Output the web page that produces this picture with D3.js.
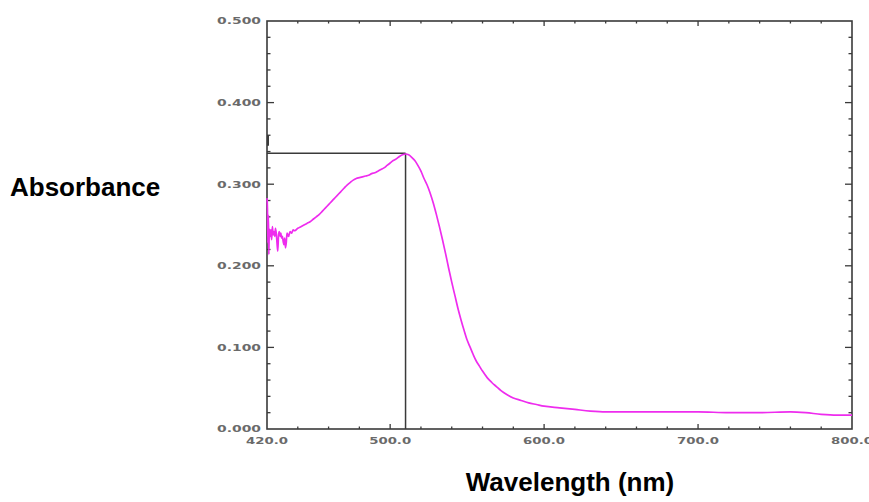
<!DOCTYPE html>
<html>
<head>
<meta charset="utf-8">
<script src="https://cdn.jsdelivr.net/npm/d3@7"></script>
<style>
  body { margin: 0; background: #fff; }
  svg { display: block; }
</style>
</head>
<body>
<svg id="chart" width="869" height="502"></svg>
<script>
(function () {
    'use strict';

    // wavelength (nm) and absorbance
    const wl = [
        420.0, 420.3, 420.6, 420.9, 421.2, 421.5, 422.0, 422.5, 423.0, 423.5,
        424.0, 424.5, 425.0, 425.5, 426.0, 426.5, 427.0, 427.5, 428.0, 428.5,
        429.0, 429.5, 430.0, 430.5, 431.0, 431.5, 432.0, 432.5, 433.0, 434.0,
        435.0, 436.0, 437.0, 438.0, 440, 442, 444, 446, 448, 450,
        452, 454, 456, 458, 460, 462, 464, 466, 468, 470,
        472, 474, 476, 478, 480, 482, 484, 486, 488, 490,
        492, 494, 496, 498, 500, 502, 504, 506, 508, 510,
        512, 514, 516, 518, 520, 522, 524, 526, 528, 530,
        532, 534, 536, 538, 540, 542, 544, 546, 548, 550,
        552, 554, 556, 558, 560, 563, 566, 569, 572, 576,
        580, 585, 590, 595, 600, 610, 620, 630, 640, 660,
        680, 700, 720, 740, 760, 770, 780, 790, 800
    ];
    const ab = [
        0.283, 0.270, 0.228, 0.262, 0.214, 0.245, 0.236, 0.244, 0.232, 0.248,
        0.238, 0.242, 0.236, 0.246, 0.240, 0.228, 0.218, 0.238, 0.242, 0.236,
        0.240, 0.234, 0.236, 0.230, 0.226, 0.234, 0.222, 0.228, 0.240, 0.236,
        0.242, 0.240, 0.244, 0.243, 0.246, 0.248, 0.250, 0.252, 0.254, 0.257,
        0.260, 0.263, 0.267, 0.271, 0.275, 0.279, 0.283, 0.287, 0.291, 0.295,
        0.299, 0.302, 0.305, 0.307, 0.308, 0.309, 0.310, 0.311, 0.313, 0.314,
        0.316, 0.318, 0.320, 0.323, 0.326, 0.329, 0.331, 0.334, 0.336, 0.337,
        0.336, 0.333, 0.329, 0.323, 0.316, 0.307, 0.299, 0.289, 0.277, 0.263,
        0.248, 0.232, 0.215, 0.197, 0.180, 0.164, 0.148, 0.134, 0.121, 0.109,
        0.100, 0.091, 0.083, 0.077, 0.071, 0.063, 0.057, 0.052, 0.047, 0.042,
        0.038, 0.035, 0.032, 0.030, 0.028, 0.026, 0.024, 0.022, 0.021, 0.021,
        0.021, 0.021, 0.020, 0.020, 0.021, 0.020, 0.018, 0.017, 0.017
    ];

    const x_la = [420, 500, 600, 700, 800];
    const y_la = [0, 0.1, 0.2, 0.3, 0.4, 0.5];
    const pk = { wl: 510, ab: 0.338 };

    const da = wl.map((w, i) => ({ w: w, a: ab[i] }));

    const ma = { top: 21, right: 17, bottom: 73, left: 267 };
    const sv = d3.select('#chart');
    const wi = 869 - ma.left - ma.right;
    const he = 502 - ma.top - ma.bottom;
    const gr = sv.append('g').attr('transform', `translate(${ma.left},${ma.top})`);

    const x_sc = d3.scaleLinear().domain([420, 800]).range([0, wi]);
    const y_sc = d3.scaleLinear().domain([0, 0.5]).range([he, 0]);

    const x_mi = d3.range(440, 800, 20);
    const y_mi = d3.range(0.02, 0.5, 0.02);
    const ax_co = '#3a3a3a';

    // ticks, all pointing inward
    const ti = gr.append('g').attr('stroke', ax_co).attr('stroke-width', 1.3);
    x_mi.forEach(v => {
        const big = x_la.indexOf(v) >= 0;
        const l = big ? 5 : 2.5;
        ti.append('line').attr('x1', x_sc(v)).attr('x2', x_sc(v))
            .attr('y1', he).attr('y2', he - l);
        ti.append('line').attr('x1', x_sc(v)).attr('x2', x_sc(v))
            .attr('y1', 0).attr('y2', big ? 5 : 2.5);
    });
    y_mi.forEach(v => {
        const big = Math.abs(v * 10 - Math.round(v * 10)) < 1e-6;
        const l = big ? 7 : 3.5;
        ti.append('line').attr('x1', 0).attr('x2', l)
            .attr('y1', y_sc(v)).attr('y2', y_sc(v));
        ti.append('line').attr('x1', wi).attr('x2', wi - l)
            .attr('y1', y_sc(v)).attr('y2', y_sc(v));
    });

    // frame
    gr.append('rect')
        .attr('width', wi).attr('height', he)
        .attr('fill', 'none')
        .attr('stroke', ax_co)
        .attr('stroke-width', 1.6);

    // tick labels
    gr.selectAll('.y-lab').data(y_la).enter().append('text')
        .attr('class', 'y-lab')
        .attr('x', -6).attr('y', d => y_sc(d))
        .attr('dy', '0.35em')
        .attr('text-anchor', 'end')
        .attr('textLength', 44)
        .attr('lengthAdjust', 'spacingAndGlyphs')
        .style('font-family', 'DejaVu Sans')
        .style('font-weight', 'bold')
        .style('font-size', '9.5px')
        .style('fill', '#6a6a6a')
        .text(d => d.toFixed(3));

    gr.selectAll('.x-lab').data(x_la).enter().append('text')
        .attr('class', 'x-lab')
        .attr('x', d => x_sc(d) - 21).attr('y', he + 12)
        .attr('dy', '0.35em')
        .attr('textLength', 42)
        .attr('lengthAdjust', 'spacingAndGlyphs')
        .style('font-family', 'DejaVu Sans')
        .style('font-weight', 'bold')
        .style('font-size', '9.5px')
        .style('fill', '#6a6a6a')
        .text(d => d.toFixed(1));

    // peak marker lines
    const mk = gr.append('g').attr('stroke', ax_co).attr('stroke-width', 1.5).attr('fill', 'none');
    mk.append('line')
        .attr('x1', x_sc(420)).attr('x2', x_sc(pk.wl))
        .attr('y1', y_sc(pk.ab)).attr('y2', y_sc(pk.ab));
    mk.append('line')
        .attr('x1', x_sc(pk.wl)).attr('x2', x_sc(pk.wl))
        .attr('y1', y_sc(pk.ab)).attr('y2', he);
    mk.append('line')
        .attr('x1', x_sc(420) + 1).attr('x2', x_sc(420) + 1)
        .attr('y1', y_sc(0.36)).attr('y2', y_sc(0.347))
        .attr('stroke-width', 2);

    // spectrum
    const li = d3.line().x(d => x_sc(d.w)).y(d => y_sc(d.a)).curve(d3.curveMonotoneX);
    gr.append('path')
        .datum(da)
        .attr('fill', 'none')
        .attr('stroke', '#ee2cee')
        .attr('stroke-width', 1.7)
        .attr('d', li);

    // axis titles
    sv.append('text')
        .attr('x', 10).attr('y', 196)
        .style('font-family', 'Liberation Sans, Arial, sans-serif')
        .style('font-weight', 'bold')
        .style('font-size', '26px')
        .text('Absorbance');

    sv.append('text')
        .attr('x', 570).attr('y', 491)
        .attr('text-anchor', 'middle')
        .style('font-family', 'Liberation Sans, Arial, sans-serif')
        .style('font-weight', 'bold')
        .style('font-size', '26px')
        .text('Wavelength (nm)');
})();
</script>
</body>
</html>
